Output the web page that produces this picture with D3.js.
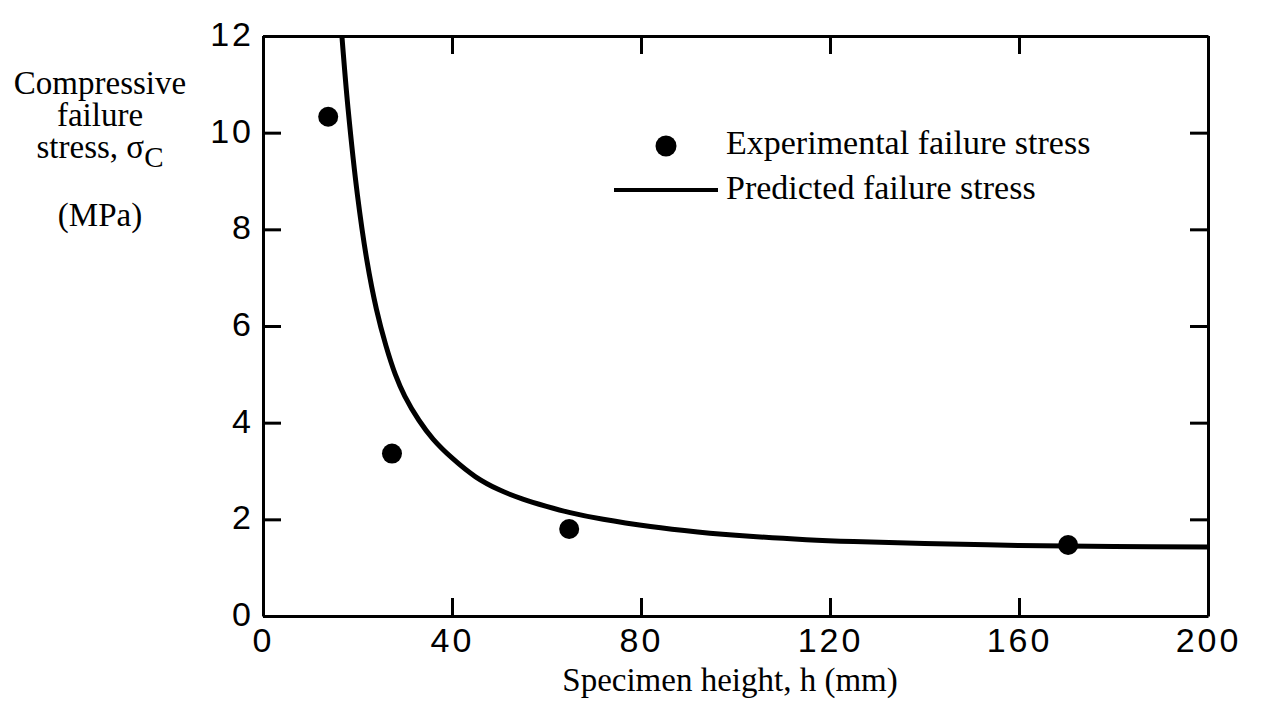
<!DOCTYPE html>
<html>
<head>
<meta charset="utf-8">
<script src="https://cdn.jsdelivr.net/npm/d3@7/dist/d3.min.js"></script>
<style>
  body { margin: 0; background: #fff; }
  .axis path, .axis line { stroke: #000; stroke-width: 3px; }
  .axis text { font-family: "Liberation Sans", Arial, sans-serif; font-size: 34px; letter-spacing: 3px; fill: #000; }
  .title { font-family: "Liberation Serif", "Times New Roman", serif; font-size: 34px; fill: #000; }
</style>
</head>
<body>
<div id="chart"></div>
<script>
var margin = {top: 36, right: 55, bottom: 104, left: 263},
  width = 1263 - margin.left - margin.right,
  height = 720 - margin.top - margin.bottom;

// x ticks / y ticks
var xTicks = [0, 40, 80, 120, 160, 200];
var yTicks = [0, 2, 4, 6, 8, 10, 12];

// experimental failure stress
var expHeight = [13.8, 27.3, 64.8, 170.4];
var expStress = [10.33, 3.36, 1.80, 1.47];

// predicted failure stress curve
var predHeight = [16.7, 18, 20, 22, 24, 26, 28, 30, 33, 36, 40, 45, 50, 55, 60, 65, 72, 82, 92, 103, 115, 125, 140, 160, 180, 200];
var predStress = [12.0, 10.5, 8.7, 7.35, 6.35, 5.6, 5.0, 4.55, 4.05, 3.66, 3.27, 2.88, 2.61, 2.42, 2.27, 2.14, 2.0, 1.85, 1.74, 1.65, 1.58, 1.54, 1.5, 1.46, 1.44, 1.43];

var xScale = d3.scaleLinear().domain([0, 200]).range([0, width]);
var yScale = d3.scaleLinear().domain([0, 12]).range([height, 0]);

var svg = d3.select("#chart").append("svg")
  .attr("width", 1263)
  .attr("height", 720)
  .style("background", "#fff");

var g = svg.append("g")
  .attr("transform", "translate(" + margin.left + "," + margin.top + ")");

g.append("clipPath")
  .attr("id", "plot-clip")
  .append("rect")
    .attr("width", width)
    .attr("height", height);

// axes, ticks point inwards
var xAxis = g.append("g")
  .attr("class", "axis")
  .attr("transform", "translate(0," + height + ")")
  .call(d3.axisBottom(xScale).tickValues(xTicks).tickSize(-18).tickSizeOuter(0).tickPadding(12));

g.append("g")
  .attr("class", "axis")
  .call(d3.axisTop(xScale).tickValues(xTicks).tickSize(-18).tickSizeOuter(0).tickFormat(""));

var yAxis = g.append("g")
  .attr("class", "axis")
  .call(d3.axisLeft(yScale).tickValues(yTicks).tickSize(-18).tickSizeOuter(0).tickPadding(9));

g.append("g")
  .attr("class", "axis")
  .attr("transform", "translate(" + width + ",0)")
  .call(d3.axisRight(yScale).tickValues(yTicks).tickSize(-18).tickSizeOuter(0).tickFormat(""));

yAxis.selectAll("text").attr("dy", "0.28em");

// predicted curve
var predData = predHeight.map(function(h, i) { return {h: h, s: predStress[i]}; });
var line = d3.line()
  .x(function(d) { return xScale(d.h); })
  .y(function(d) { return yScale(d.s); })
  .curve(d3.curveCatmullRom.alpha(0.5));

g.append("path")
  .datum(predData)
  .attr("clip-path", "url(#plot-clip)")
  .attr("fill", "none")
  .attr("stroke", "#000")
  .attr("stroke-width", 5)
  .attr("d", line);

// experimental points
var expData = expHeight.map(function(h, i) { return {h: h, s: expStress[i]}; });
g.selectAll(".dot")
  .data(expData)
  .enter().append("circle")
    .attr("class", "dot")
    .attr("cx", function(d) { return xScale(d.h); })
    .attr("cy", function(d) { return yScale(d.s); })
    .attr("r", 10)
    .attr("fill", "#000");

// legend
var legend = svg.append("g");
legend.append("circle")
  .attr("cx", 666).attr("cy", 146).attr("r", 10.5).attr("fill", "#000");
legend.append("text")
  .attr("class", "title")
  .attr("x", 726).attr("y", 154)
  .text("Experimental failure stress");
legend.append("line")
  .attr("x1", 614).attr("x2", 718).attr("y1", 190).attr("y2", 190)
  .attr("stroke", "#000").attr("stroke-width", 4);
legend.append("text")
  .attr("class", "title")
  .attr("x", 726).attr("y", 199)
  .text("Predicted failure stress");

// axis titles
svg.append("text")
  .attr("class", "title")
  .attr("x", 730).attr("y", 691)
  .attr("text-anchor", "middle")
  .style("font-size", "33px")
  .text("Specimen height, h (mm)");

var yTitle = svg.append("text")
  .attr("class", "title")
  .attr("text-anchor", "middle")
  .style("font-size", "33px");
yTitle.append("tspan").attr("x", 100).attr("y", 94).text("Compressive");
yTitle.append("tspan").attr("x", 100).attr("y", 126).text("failure");
var t3 = yTitle.append("tspan").attr("x", 100).attr("y", 158);
t3.append("tspan").text("stress, σ");
t3.append("tspan").attr("dy", 9).style("font-size", "29px").text("C");
yTitle.append("tspan").attr("x", 100).attr("y", 226).text("(MPa)");
</script>
</body>
</html>
